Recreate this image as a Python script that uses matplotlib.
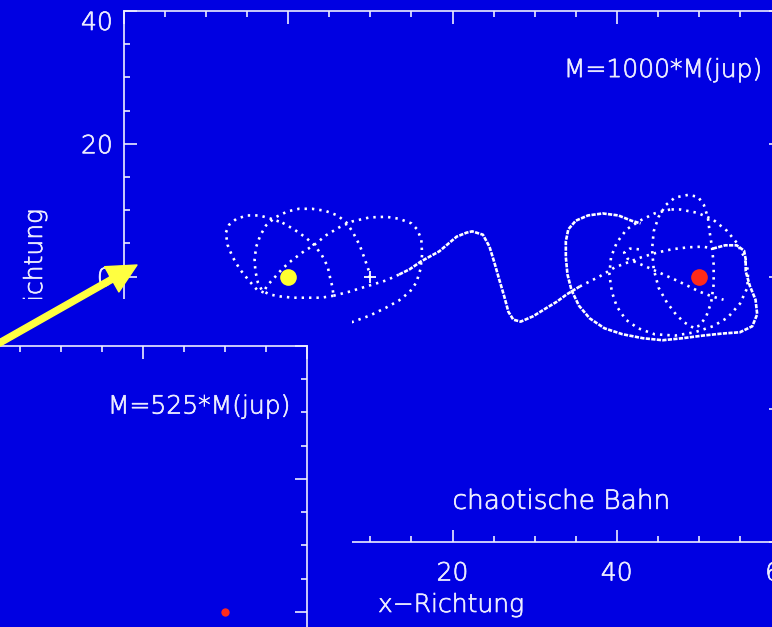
import matplotlib
matplotlib.use('Agg')
import matplotlib.pyplot as plt
import matplotlib.patheffects as pe
from matplotlib.patches import FancyArrowPatch, ArrowStyle, Rectangle
from matplotlib.ticker import MultipleLocator

# ---------------- data ----------------
star1 = (0.0, 0.0)      # yellow star
star2 = (50.0, 0.0)     # red star
centre_marks_x = [10.0]
centre_marks_y = [0.0]
inset_star = (10.0, -20.0)

# orbit pieces around the yellow star
orb1_x = [7.7, 9.9, 11.9, 13.5, 14.8, 15.6, 16.1, 16.3, 16.2, 15.7, 15.0, 13.5, 11.9, 9.9, 7.8, 6.2, 4.6, 3.2, 1.7, 0.4, -0.7, -1.7, -2.6, -3.0]
orb1_y = [-6.9, -5.9, -4.7, -3.6, -2.3, -0.9, 1.1, 3.3, 5.6, 7.1, 8.0, 8.7, 9.0, 8.9, 8.3, 7.4, 6.2, 4.8, 3.6, 2.4, 1.2, -0.2, -1.4, -2.4]
orb2_x = [-3.0, -3.8, -4.8, -5.9, -6.8, -7.4, -7.6, -7.2, -6.3, -5.0, -3.5, -2.1, -0.7]
orb2_y = [-2.4, -2.0, -0.6, 1.1, 3.0, 4.8, 6.6, 7.8, 8.7, 9.2, 9.2, 8.7, 8.1]
orb3_x = [-0.7, 0.7, 2.1, 3.2, 4.1, 4.8, 5.1, 5.4, 5.5]
orb3_y = [8.1, 7.1, 5.9, 4.7, 3.2, 1.5, -0.2, -1.7, -2.9]
orb4_x = [5.5, 4.0, 2.3, 0.6, -1.0, -2.3, -3.2, -3.7, -4.0, -4.1, -3.9, -3.4, -2.7, -1.6, -0.1, 1.3, 2.9, 4.5, 6.0, 7.1, 7.9, 8.7, 9.3, 9.8, 10.0]
orb4_y = [-2.9, -3.2, -3.2, -3.2, -3.0, -2.7, -2.1, -0.9, 0.8, 2.6, 4.5, 6.2, 7.7, 8.9, 9.8, 10.2, 10.2, 9.9, 9.2, 8.1, 6.6, 4.7, 2.7, 0.9, -0.6]

# transfer path between the stars
esc1_x = [5.5, 7.4, 9.5, 11.9, 13.5]
esc1_y = [-2.9, -2.3, -1.5, -0.6, 0.3]
esc2_x = [13.5, 14.8, 16.2, 18.4, 20.5, 21.7, 22.4, 23.7, 24.5, 25.1, 25.7, 26.3, 26.8, 27.4, 28.3, 29.8, 31.5, 32.7, 33.9, 35.5]
esc2_y = [0.3, 1.1, 2.3, 3.8, 6.0, 6.6, 6.8, 6.3, 4.5, 2.1, -0.5, -3.0, -5.3, -6.5, -6.8, -6.0, -4.7, -3.8, -2.7, -1.5]
esc3_x = [35.5, 37.9, 39.8, 41.3, 43.0, 44.9, 46.7, 48.7, 50.5, 51.7]
esc3_y = [-1.5, 0.0, 1.4, 2.1, 2.9, 3.6, 4.1, 4.4, 4.5, 4.2]

# orbit pieces around the red star
orbA_x = [51.7, 53.2, 54.6, 55.5, 55.7, 55.7, 56.2, 56.9, 57.1, 56.5, 55.0, 52.8, 50.5, 48.0, 45.6, 43.2, 40.7, 38.5, 36.7, 35.4, 34.5, 34.0, 33.8, 33.8, 34.1, 35.0, 36.5, 38.3, 40.2, 41.8, 42.9]
orbA_y = [4.2, 4.7, 4.7, 3.9, 2.6, 0.8, -1.4, -3.5, -5.7, -7.5, -8.4, -8.6, -8.9, -9.3, -9.6, -9.3, -8.7, -7.8, -6.3, -4.4, -2.1, 0.3, 2.9, 5.3, 7.1, 8.4, 9.2, 9.5, 9.2, 8.4, 8.0]
orbB_x = [42.7, 41.6, 40.9, 41.3, 42.6, 44.1, 45.7, 47.3, 48.8, 50.1, 51.6, 53.0]
orbB_y = [4.1, 4.2, 3.6, 2.7, 2.0, 1.2, 0.3, -0.6, -1.5, -2.3, -3.0, -3.5]
orbC_x = [49.3, 48.2, 47.2, 46.1, 45.1, 44.5, 44.3, 44.5, 45.1, 46.0, 47.1, 48.7, 49.9, 50.6, 51.1, 51.3, 51.6, 51.8, 51.8, 51.5, 50.9, 50.1, 49.3]
orbC_y = [-7.7, -6.9, -5.7, -3.9, -1.7, 1.1, 4.1, 6.8, 9.0, 10.8, 11.9, 12.3, 12.0, 10.8, 8.9, 6.8, 4.4, 1.8, -1.2, -3.9, -6.0, -7.4, -7.7]
orbD_x = [46.5, 44.6, 42.8, 41.2, 40.0, 39.3, 39.1, 39.4, 40.0, 41.1, 42.6, 44.6, 47.1, 49.5, 51.7, 53.5, 55.0, 55.9, 56.0, 55.5, 54.6, 53.4, 51.7, 49.8, 47.7, 46.5]
orbD_y = [10.1, 9.5, 8.4, 7.1, 5.1, 2.9, 0.3, -2.3, -4.5, -6.5, -7.8, -8.7, -8.9, -8.4, -7.5, -6.2, -4.1, -1.7, 0.8, 3.0, 5.1, 6.9, 8.6, 9.6, 10.1, 10.1]

dense_pieces = [(esc2_x, esc2_y), (orbA_x, orbA_y)]
sparse_pieces = [(orb1_x, orb1_y), (orb2_x, orb2_y), (orb3_x, orb3_y), (orb4_x, orb4_y),
                 (esc1_x, esc1_y), (esc3_x, esc3_y), (orbB_x, orbB_y),
                 (orbC_x, orbC_y), (orbD_x, orbD_y)]

main_label = 'M=1000*M(jup)'
inset_label = 'M=525*M(jup)'
note = 'chaotische Bahn'
xlabel = 'x\u2212Richtung'
ylabel = 'y\u2212Richtung'

# ---------------- style ----------------
BG = '#0000e2'
FG = '#ececff'
DOT = '#ffffff'
FS = 18
plt.rcParams['font.family'] = ['DejaVu Sans']
plt.rcParams['font.weight'] = 200
THICK = [pe.withStroke(linewidth=0.5, foreground=FG)]

W, H = 772, 627
fig = plt.figure(figsize=(W / 100, H / 100), dpi=100, facecolor=BG)


def frac(px, py):
    return px / W, 1 - py / H


# main axes
ax = fig.add_axes([124 / W, 1 - 542 / H, (781 - 124) / W, (542 - 11) / H])
ax.set_facecolor(BG)
ax.set_xlim(-20, 60)
ax.set_ylim(-40, 40)
for a in (ax.xaxis, ax.yaxis):
    a.set_major_locator(MultipleLocator(20))
    a.set_minor_locator(MultipleLocator(5))
ax.tick_params(which='both', direction='in', colors=FG, top=True, right=True,
               labelsize=FS, width=1.2)
ax.tick_params(which='major', length=9)
ax.tick_params(which='minor', length=4.5)
ax.tick_params(axis='x', pad=14)
ax.tick_params(axis='y', pad=8)
for s in ax.spines.values():
    s.set_color(FG)
    s.set_linewidth(1.2)
fig.canvas.draw()
for lab in ax.get_yticklabels() + ax.get_xticklabels():
    lab.set_path_effects(THICK)
    if lab.get_text() == '40' and lab in ax.get_yticklabels():
        lab.set_verticalalignment('top')

for xs, ys in dense_pieces:
    ax.plot(xs, ys, color=DOT, lw=1.9, dashes=(1.6, 0.5), solid_capstyle='butt')
for xs, ys in sparse_pieces:
    ax.plot(xs, ys, color=DOT, lw=1.9, dashes=(0.9, 1.9))

ax.plot(*star1, 'o', color='#ffff30', ms=12, mec='none', zorder=5)
ax.plot(*star2, 'o', color='#ff2a1a', ms=12, mec='none', zorder=5)
ax.plot(centre_marks_x, centre_marks_y, '+', color='#ffffff', ms=8, mew=1.3)

ax.text(57.7, 31.1, main_label, ha='right', va='center', color=FG, fontsize=FS,
        path_effects=THICK)
ax.text(20.0, -35.0, note, ha='left', va='baseline', color=FG, fontsize=19,
        path_effects=THICK)
ax.text((451 - 124) / 657, (542 - 593) / 531, xlabel, transform=ax.transAxes,
        ha='center', va='top', color=FG, fontsize=FS, path_effects=THICK)
ax.text((35 - 124) / 657, (542 - 282) / 531, ylabel, transform=ax.transAxes, rotation=90,
        ha='center', va='center', color=FG, fontsize=FS, path_effects=THICK)

# cover of the second window
cx, cy = frac(352, 298.5)
fig.add_artist(Rectangle((0, 0), cx, cy, transform=fig.transFigure,
                         facecolor=BG, edgecolor='none', zorder=1))

# inset window
x0, y0 = frac(0, 627)
x1, y1 = frac(307, 346)
ins = fig.add_axes([x0, y0, x1 - x0, y1 - y0], zorder=2)
ins.set_facecolor(BG)
ins.set_xlim(-17.44, 20)
ins.set_ylim(-22.26, 20)
for a in (ins.xaxis, ins.yaxis):
    a.set_major_locator(MultipleLocator(20))
    a.set_minor_locator(MultipleLocator(5))
ins.tick_params(which='both', direction='in', colors=FG, top=True, right=True,
                bottom=False, left=False, labelbottom=False, labelleft=False, width=1.2)
ins.tick_params(which='major', length=9)
ins.tick_params(which='minor', length=4.5)
for k, s in ins.spines.items():
    s.set_color(FG)
    s.set_linewidth(1.2)
    s.set_visible(k in ('top', 'right'))
ins.plot(*inset_star, 'o', color='#ff2a1a', ms=6, mec='none', clip_on=False)
ins.text(17.9, 10.9, inset_label, ha='right', va='center', color=FG, fontsize=FS,
         path_effects=THICK)

# yellow arrow
arrow = FancyArrowPatch(frac(-20, 354), frac(137, 265), transform=fig.transFigure,
                        arrowstyle=ArrowStyle.Simple(head_length=0.95, head_width=0.95,
                                                     tail_width=0.2),
                        mutation_scale=22, color='#ffff40', shrinkA=0, shrinkB=0,
                        zorder=5)
fig.add_artist(arrow)

fig.savefig('out.png', dpi=100, facecolor=BG)
